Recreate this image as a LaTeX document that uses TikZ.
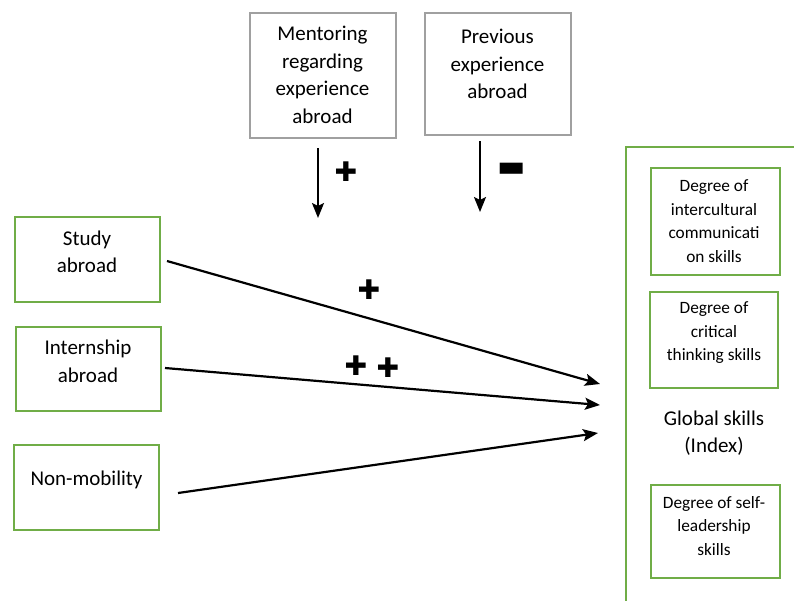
\documentclass[tikz,border=0pt]{standalone}
\usepackage{fontspec}
\setmainfont{Carlito}
\newfontfamily\symfont{DejaVu Sans}
\usetikzlibrary{arrows.meta}
\definecolor{boxgreen}{HTML}{70AD47}
\definecolor{boxgray}{HTML}{A0A0A0}

\begin{document}
\begin{tikzpicture}[x=1pt,y=-1pt,
  graybox/.style={draw=boxgray, line width=2pt, minimum width=146pt},
  greenbox/.style={draw=boxgreen, line width=2pt, minimum width=145pt, minimum height=85pt},
  skillbox/.style={draw=boxgreen, line width=2pt, minimum width=129pt},
  big/.style={font=\fontsize{21}{27.5}\selectfont, align=center},
  small/.style={font=\fontsize{17.3}{23.5}\selectfont, align=center},
  sign/.style={font=\symfont\fontsize{27}{27}\selectfont},
  effect/.style={line width=2.2pt, -{Stealth[length=15pt,width=12pt,inset=3pt]}}]
\useasboundingbox (0,0) rectangle (794,600);

% moderators
\node[graybox, minimum height=125pt] (mentor) at (322.5,75.5) {};
\node[big] (mentortext) at (322.5,75) {Mentoring\\regarding\\experience\\abroad};
\node[graybox, minimum height=122pt] (prev) at (497.5,74) {};
\node[big] (prevtext) at (497.5,64) {Previous\\experience\\abroad};

% mobility types
\node[greenbox] (study) at (87.5,259.5) {};
\node[big] (studytext) at (87,252) {Study\\abroad};
\node[greenbox, minimum height=84pt] (intern) at (88.5,369) {};
\node[big] (interntext) at (88,361.5) {Internship\\abroad};
\node[greenbox] (nonmob) at (86.5,487.5) {};
\node[big] (nonmobtext) at (86.5,480) {Non-mobility};

% global skills
\draw[boxgreen, line width=2pt] (800,147) -- (626,147) -- (626,610);
\node[skillbox, minimum height=107pt] (intercult) at (715,221.5) {};
\node[small] (intercult text) at (714,221) {Degree of\\intercultural\\communicati\\on skills};
\node[skillbox, minimum height=96pt, minimum width=128pt] (critical) at (714,340) {};
\node[small] (criticaltext) at (714,333) {Degree of\\critical\\thinking skills};
\node[big] (global) at (714,433) {Global skills\\(Index)};
\node[skillbox, minimum height=93pt] (selflead) at (715.5,531.5) {};
\node[small] (selfleadtext) at (714,526) {Degree of self-\\leadership\\skills};

% arrows
\coordinate (m0) at (318,148);
\coordinate (m1) at (318,218);
\coordinate (p0) at (480,141);
\coordinate (p1) at (480,212);
\coordinate (g1) at (600,384);
\coordinate (g2) at (600,405);
\coordinate (g3) at (598,433);
\draw[effect] (m0) -- (m1);
\draw[effect] (p0) -- (p1);
\draw[effect] ([shift={(6,1.5)}]study.east) -- (g1);
\draw[effect] ([shift={(3,-1)}]intern.east) -- (g2);
\draw[effect] ([shift={(18,5.5)}]nonmob.east) -- (g3);

% signs
\node[sign] (plusmentor) at (346,172) {✚};
\node[sign, font=\symfont\fontsize{30}{30}\selectfont] (minusprev) at (512,170) {▬};
\node[sign] (plusstudy) at (369,290) {✚};
\node[sign] (plusintern1) at (356,366) {✚};
\node[sign] (plusintern2) at (388,368) {✚};
\end{tikzpicture}
\end{document}
